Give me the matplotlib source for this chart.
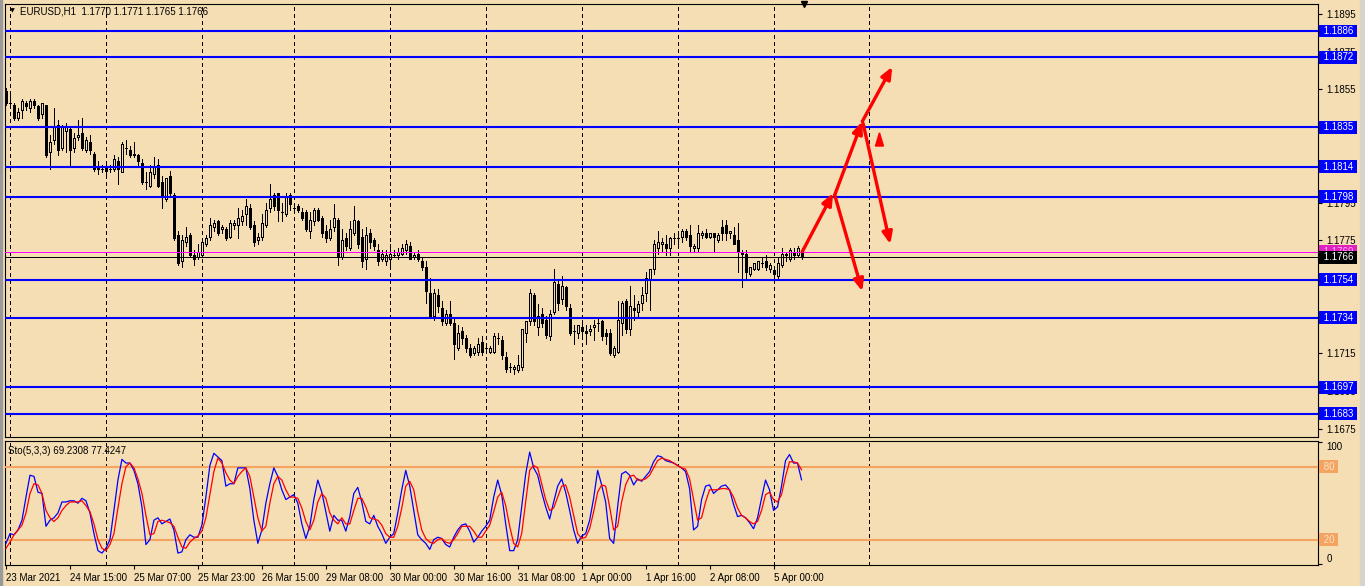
import matplotlib
matplotlib.use("Agg")
import matplotlib.pyplot as plt
import matplotlib.transforms as mtransforms
from matplotlib.patches import Polygon, Rectangle
import numpy as np

# EURUSD H1 candles (one per hour, left to right)
opens = [1.1854, 1.1848, 1.1847, 1.1840, 1.1844, 1.1848, 1.1845, 1.1849, 1.1846, 1.1842,
         1.1847, 1.1822, 1.1828, 1.1836, 1.1824, 1.1833, 1.1834, 1.1824, 1.1830, 1.1832,
         1.1823, 1.1827, 1.1821, 1.1814, 1.1813, 1.1814, 1.1813, 1.1813, 1.1817, 1.1811,
         1.1824, 1.1823, 1.1821, 1.1820, 1.1816, 1.1806, 1.1804, 1.1810, 1.1815, 1.1806,
         1.1797, 1.1809, 1.1799, 1.1778, 1.1764, 1.1774, 1.1778, 1.1767, 1.1766, 1.1767,
         1.1773, 1.1777, 1.1782, 1.1785, 1.1781, 1.1781, 1.1777, 1.1783, 1.1783, 1.1785,
         1.1789, 1.1792, 1.1783, 1.1775, 1.1777, 1.1783, 1.1792, 1.1799, 1.1800, 1.1790,
         1.1789, 1.1799, 1.1792, 1.1793, 1.1790, 1.1790, 1.1780, 1.1785, 1.1791, 1.1787,
         1.1780, 1.1776, 1.1782, 1.1786, 1.1766, 1.1776, 1.1771, 1.1779, 1.1785, 1.1777,
         1.1765, 1.1779, 1.1775, 1.1770, 1.1765, 1.1764, 1.1765, 1.1767, 1.1767, 1.1768,
         1.1770, 1.1772, 1.1766, 1.1768, 1.1764, 1.1761, 1.1747, 1.1735, 1.1746, 1.1739,
         1.1731, 1.1736, 1.1731, 1.1718, 1.1727, 1.1723, 1.1718, 1.1715, 1.1716, 1.1721,
         1.1718, 1.1716, 1.1716, 1.1723, 1.1722, 1.1713, 1.1708, 1.1707, 1.1706, 1.1708,
         1.1726, 1.1732, 1.1746, 1.1729, 1.1736, 1.1733, 1.1724, 1.1737, 1.1752, 1.1744,
         1.1750, 1.1739, 1.1727, 1.1726, 1.1729, 1.1727, 1.1727, 1.1729, 1.1731, 1.1732,
         1.1726, 1.1726, 1.1714, 1.1716, 1.1731, 1.1743, 1.1728, 1.1739, 1.1737, 1.1742,
         1.1747, 1.1754, 1.1760, 1.1771, 1.1773, 1.1773, 1.1771, 1.1776, 1.1776, 1.1777,
         1.1780, 1.1778, 1.1771, 1.1771, 1.1778, 1.1779, 1.1777, 1.1779, 1.1775, 1.1782,
         1.1783, 1.1779, 1.1778, 1.1775, 1.1769, 1.1768, 1.1757, 1.1760, 1.1760, 1.1763,
         1.1764, 1.1760, 1.1759, 1.1756, 1.1762, 1.1767, 1.1765, 1.1769, 1.1767, 1.1770]
highs = [1.1856, 1.1853, 1.1848, 1.1845, 1.1850, 1.1849, 1.1850, 1.1850, 1.1847, 1.1848,
         1.1847, 1.1831, 1.1845, 1.1839, 1.1836, 1.1837, 1.1835, 1.1832, 1.1839, 1.1840,
         1.1830, 1.1831, 1.1822, 1.1817, 1.1815, 1.1816, 1.1815, 1.1820, 1.1819, 1.1827,
         1.1828, 1.1825, 1.1827, 1.1821, 1.1818, 1.1811, 1.1815, 1.1819, 1.1818, 1.1809,
         1.1808, 1.1812, 1.1800, 1.1780, 1.1778, 1.1782, 1.1779, 1.1770, 1.1773, 1.1775,
         1.1778, 1.1787, 1.1786, 1.1786, 1.1783, 1.1782, 1.1786, 1.1786, 1.1792, 1.1791,
         1.1797, 1.1794, 1.1785, 1.1779, 1.1789, 1.1795, 1.1805, 1.1800, 1.1800, 1.1795,
         1.1800, 1.1800, 1.1794, 1.1794, 1.1792, 1.1791, 1.1790, 1.1792, 1.1792, 1.1788,
         1.1783, 1.1786, 1.1794, 1.1787, 1.1781, 1.1779, 1.1785, 1.1793, 1.1786, 1.1781,
         1.1782, 1.1781, 1.1776, 1.1773, 1.1770, 1.1770, 1.1773, 1.1770, 1.1771, 1.1773,
         1.1775, 1.1774, 1.1769, 1.1770, 1.1766, 1.1764, 1.1755, 1.1749, 1.1749, 1.1743,
         1.1738, 1.1743, 1.1734, 1.1730, 1.1729, 1.1725, 1.1720, 1.1719, 1.1723, 1.1724,
         1.1719, 1.1719, 1.1726, 1.1726, 1.1724, 1.1716, 1.1710, 1.1709, 1.1714, 1.1728,
         1.1732, 1.1749, 1.1747, 1.1741, 1.1739, 1.1735, 1.1738, 1.1760, 1.1754, 1.1756,
         1.1751, 1.1741, 1.1730, 1.1730, 1.1733, 1.1730, 1.1730, 1.1733, 1.1734, 1.1733,
         1.1728, 1.1728, 1.1719, 1.1743, 1.1743, 1.1744, 1.1751, 1.1746, 1.1743, 1.1750,
         1.1758, 1.1760, 1.1775, 1.1780, 1.1776, 1.1778, 1.1777, 1.1779, 1.1779, 1.1781,
         1.1781, 1.1783, 1.1773, 1.1783, 1.1780, 1.1781, 1.1779, 1.1779, 1.1779, 1.1786,
         1.1786, 1.1780, 1.1782, 1.1784, 1.1770, 1.1770, 1.1761, 1.1762, 1.1764, 1.1766,
         1.1767, 1.1763, 1.1760, 1.1766, 1.1771, 1.1769, 1.1771, 1.1771, 1.1772, 1.1771]
lows = [1.1847, 1.1845, 1.1839, 1.1839, 1.1840, 1.1844, 1.1843, 1.1845, 1.1839, 1.1840,
        1.1819, 1.1813, 1.1826, 1.1820, 1.1823, 1.1822, 1.1814, 1.1822, 1.1828, 1.1823,
        1.1822, 1.1821, 1.1812, 1.1810, 1.1811, 1.1808, 1.1811, 1.1812, 1.1805, 1.1811,
        1.1821, 1.1819, 1.1819, 1.1815, 1.1805, 1.1802, 1.1803, 1.1808, 1.1803, 1.1792,
        1.1796, 1.1799, 1.1775, 1.1762, 1.1761, 1.1772, 1.1766, 1.1762, 1.1765, 1.1766,
        1.1772, 1.1775, 1.1780, 1.1778, 1.1779, 1.1775, 1.1776, 1.1781, 1.1776, 1.1783,
        1.1783, 1.1781, 1.1772, 1.1773, 1.1775, 1.1782, 1.1790, 1.1791, 1.1785, 1.1785,
        1.1788, 1.1791, 1.1790, 1.1790, 1.1786, 1.1780, 1.1776, 1.1783, 1.1785, 1.1777,
        1.1774, 1.1775, 1.1780, 1.1762, 1.1765, 1.1770, 1.1770, 1.1778, 1.1771, 1.1761,
        1.1760, 1.1771, 1.1770, 1.1762, 1.1764, 1.1762, 1.1762, 1.1766, 1.1765, 1.1767,
        1.1768, 1.1765, 1.1765, 1.1764, 1.1759, 1.1742, 1.1734, 1.1733, 1.1737, 1.1730,
        1.1730, 1.1730, 1.1712, 1.1717, 1.1720, 1.1716, 1.1713, 1.1714, 1.1714, 1.1714,
        1.1716, 1.1715, 1.1715, 1.1720, 1.1712, 1.1705, 1.1705, 1.1704, 1.1705, 1.1706,
        1.1721, 1.1730, 1.1730, 1.1725, 1.1729, 1.1723, 1.1722, 1.1736, 1.1738, 1.1741,
        1.1738, 1.1725, 1.1720, 1.1723, 1.1725, 1.1720, 1.1725, 1.1722, 1.1727, 1.1722,
        1.1720, 1.1714, 1.1713, 1.1715, 1.1725, 1.1726, 1.1725, 1.1733, 1.1734, 1.1738,
        1.1743, 1.1738, 1.1757, 1.1768, 1.1769, 1.1767, 1.1767, 1.1773, 1.1773, 1.1774,
        1.1775, 1.1769, 1.1769, 1.1769, 1.1776, 1.1776, 1.1776, 1.1769, 1.1774, 1.1775,
        1.1775, 1.1776, 1.1773, 1.1758, 1.1750, 1.1755, 1.1756, 1.1759, 1.1759, 1.1761,
        1.1759, 1.1758, 1.1755, 1.1754, 1.1761, 1.1764, 1.1764, 1.1765, 1.1766, 1.1765]
closes = [1.1848, 1.1848, 1.1840, 1.1843, 1.1849, 1.1846, 1.1849, 1.1847, 1.1840, 1.1848,
          1.1820, 1.1827, 1.1835, 1.1823, 1.1835, 1.1835, 1.1823, 1.1829, 1.1831, 1.1824,
          1.1828, 1.1823, 1.1813, 1.1813, 1.1813, 1.1812, 1.1813, 1.1818, 1.1813, 1.1826,
          1.1824, 1.1820, 1.1820, 1.1817, 1.1806, 1.1806, 1.1811, 1.1814, 1.1804, 1.1798,
          1.1808, 1.1800, 1.1776, 1.1763, 1.1775, 1.1777, 1.1767, 1.1765, 1.1769, 1.1774,
          1.1776, 1.1783, 1.1784, 1.1779, 1.1782, 1.1776, 1.1784, 1.1784, 1.1787, 1.1788,
          1.1793, 1.1782, 1.1774, 1.1777, 1.1784, 1.1791, 1.1797, 1.1793, 1.1791, 1.1790,
          1.1798, 1.1794, 1.1792, 1.1791, 1.1787, 1.1781, 1.1786, 1.1791, 1.1786, 1.1779,
          1.1776, 1.1781, 1.1787, 1.1766, 1.1775, 1.1772, 1.1781, 1.1786, 1.1773, 1.1764,
          1.1778, 1.1774, 1.1772, 1.1764, 1.1768, 1.1767, 1.1768, 1.1767, 1.1769, 1.1771,
          1.1773, 1.1765, 1.1767, 1.1765, 1.1761, 1.1748, 1.1735, 1.1747, 1.1740, 1.1732,
          1.1736, 1.1731, 1.1720, 1.1726, 1.1723, 1.1718, 1.1714, 1.1718, 1.1720, 1.1716,
          1.1718, 1.1718, 1.1724, 1.1723, 1.1714, 1.1707, 1.1708, 1.1708, 1.1709, 1.1728,
          1.1732, 1.1747, 1.1732, 1.1735, 1.1731, 1.1725, 1.1736, 1.1753, 1.1742, 1.1751,
          1.1740, 1.1726, 1.1727, 1.1730, 1.1727, 1.1726, 1.1728, 1.1730, 1.1731, 1.1724,
          1.1724, 1.1715, 1.1718, 1.1733, 1.1742, 1.1728, 1.1740, 1.1738, 1.1741, 1.1746,
          1.1755, 1.1760, 1.1773, 1.1774, 1.1774, 1.1771, 1.1776, 1.1776, 1.1776, 1.1780,
          1.1777, 1.1772, 1.1772, 1.1779, 1.1779, 1.1777, 1.1779, 1.1777, 1.1778, 1.1779,
          1.1779, 1.1780, 1.1773, 1.1769, 1.1768, 1.1758, 1.1761, 1.1763, 1.1764, 1.1763,
          1.1761, 1.1762, 1.1757, 1.1763, 1.1768, 1.1768, 1.1770, 1.1767, 1.1771, 1.1766]

# Stochastic(5,3,3): main (%K, blue) and signal (%D, red)
sto_main = [17, 25, 24, 28, 36, 55, 73, 72, 59, 58,
            31, 36, 38, 42, 51, 51, 52, 52, 50, 54,
            52, 42, 25, 11, 9, 13, 20, 44, 69, 86,
            83, 83, 77, 66, 47, 16, 20, 36, 38, 33,
            35, 37, 28, 9, 10, 20, 24, 22, 22, 32,
            55, 81, 91, 88, 85, 64, 66, 66, 79, 79,
            79, 62, 36, 17, 28, 50, 66, 79, 72, 61,
            53, 55, 57, 50, 33, 21, 31, 53, 69, 59,
            43, 27, 40, 36, 36, 27, 39, 58, 63, 51,
            35, 33, 40, 31, 25, 17, 22, 25, 42, 61,
            77, 64, 44, 24, 20, 17, 12, 20, 22, 21,
            16, 14, 22, 28, 32, 33, 27, 18, 22, 27,
            31, 36, 55, 69, 57, 33, 11, 11, 20, 47,
            74, 92, 79, 73, 59, 47, 37, 51, 64, 70,
            59, 44, 28, 17, 23, 25, 36, 54, 77, 65,
            51, 21, 17, 47, 74, 76, 73, 65, 70, 68,
            72, 76, 84, 89, 88, 85, 84, 83, 81, 79,
            76, 62, 28, 31, 53, 64, 65, 58, 61, 64,
            65, 61, 49, 39, 40, 38, 34, 29, 38, 54,
            69, 61, 44, 47, 64, 85, 90, 83, 83, 69.2308]
sto_signal = [13, 18, 24, 28, 32, 42, 58, 66, 65, 58,
              44, 38, 35, 38, 44, 48, 51, 51, 51, 52,
              48, 43, 33, 20, 13, 11, 16, 25, 46, 66,
              80, 83, 79, 70, 58, 40, 24, 25, 35, 36,
              35, 34, 31, 22, 14, 13, 18, 21, 23, 27,
              38, 57, 76, 87, 83, 75, 69, 66, 72, 76,
              79, 72, 55, 38, 27, 31, 50, 66, 72, 69,
              61, 55, 55, 54, 46, 35, 28, 36, 51, 58,
              54, 42, 36, 33, 38, 33, 33, 44, 54, 54,
              47, 38, 37, 36, 32, 25, 22, 22, 31, 46,
              64, 68, 61, 43, 28, 21, 18, 17, 20, 21,
              18, 17, 20, 25, 31, 31, 31, 27, 22, 22,
              27, 32, 43, 55, 59, 48, 31, 17, 14, 25,
              51, 77, 81, 79, 66, 53, 44, 46, 55, 64,
              65, 55, 40, 25, 21, 22, 29, 43, 59, 65,
              64, 47, 28, 31, 51, 65, 72, 73, 69, 69,
              70, 73, 79, 85, 87, 86, 85, 83, 81, 79,
              78, 70, 53, 36, 38, 51, 61, 61, 61, 62,
              62, 61, 55, 46, 40, 38, 35, 33, 35, 44,
              57, 59, 53, 51, 57, 72, 84, 84, 83, 77.4247]

# horizontal support / resistance levels
levels = [1.1886, 1.1872, 1.1835, 1.1814, 1.1798, 1.1754, 1.1734, 1.1697, 1.1683]
bid, ask = 1.1766, 1.1769
price_ticks = [1.1895, 1.1875, 1.1855, 1.1835, 1.1815, 1.1795, 1.1775,
               1.1755, 1.1735, 1.1715, 1.1695, 1.1675]

# time axis
date_ticks = [0, 16, 32, 48, 64, 80, 96, 112, 128, 144, 160, 176, 192]
date_labels = ["23 Mar 2021", "24 Mar 15:00", "25 Mar 07:00", "25 Mar 23:00",
               "26 Mar 15:00", "29 Mar 08:00", "30 Mar 00:00", "30 Mar 16:00",
               "31 Mar 08:00", "1 Apr 00:00", "1 Apr 16:00", "2 Apr 08:00",
               "5 Apr 00:00"]
day_separators = [1, 25, 49, 72, 96, 120, 144, 168, 192, 216]

# forecast arrows drawn on the chart: (from bar, from price, to bar, to price)
arrows = [(199.2, 1.1769, 206.9, 1.1800),
          (207.3, 1.1799, 214.2, 1.1748),
          (207.3, 1.1799, 214.2, 1.1838),
          (214.2, 1.1838, 221.7, 1.1867),
          (214.4, 1.1837, 221.2, 1.1773)]
up_mark = [(217.5, 1.1825), (219.5, 1.1825), (218.5, 1.1832)]

BG = "#F5DEB3"
W, H = 1365, 586
FS = 7
plt.rcParams["font.family"] = ["Liberation Sans", "DejaVu Sans"]


def rect(l, t, r, b):
    return [l / W, 1 - b / H, (r - l) / W, (b - t) / H]


fig = plt.figure(figsize=(W / 100, H / 100), dpi=100, facecolor=BG)
ax = fig.add_axes(rect(5, 4, 1318, 437), facecolor=BG)
ax2 = fig.add_axes(rect(5, 441, 1318, 565), facecolor=BG, sharex=ax)

x = np.arange(len(opens))
o = np.array(opens)
c = np.array(closes)
bull = c >= o

# day separators
for a in (ax, ax2):
    for s in day_separators:
        a.axvline(s, color="black", lw=0.72, ls=(0, (3, 3)), zorder=1,
                  antialiased=False)

# candles
ax.vlines(x, lows, highs, color="black", lw=0.72, zorder=3, antialiased=False)
ax.bar(x[bull], (c - o)[bull], bottom=o[bull], width=0.5, color=BG,
       edgecolor="black", linewidth=0.72, zorder=4, antialiased=False)
ax.bar(x[~bull], (c - o)[~bull], bottom=o[~bull], width=0.5, color="black",
       edgecolor="black", linewidth=0.72, zorder=4, antialiased=False)

# levels
ytr = ax.get_yaxis_transform()
box = dict(boxstyle="square,pad=0.15", ec="none")
for lv in levels:
    ax.axhline(lv, color="#0000FF", lw=1.5, zorder=5)
    ax.text(1.002, lv, f" {lv:.4f} ", transform=ytr, ha="left", va="center",
            fontsize=FS, color="white", zorder=10, clip_on=False,
            bbox=dict(box, fc="#0000FF"))
ax.axhline(ask, color="#FF00FF", lw=0.72, zorder=5, antialiased=False)
ax.axhline(bid, color="black", lw=0.72, zorder=5, antialiased=False)
ax.text(1.002, ask, f" {ask:.4f} ", transform=ytr, ha="left", va="center",
        fontsize=FS, color="#FFB0F0", zorder=9, clip_on=False,
        bbox=dict(box, fc="#E020C0"))
ax.text(1.002, bid, f" {bid:.4f} ", transform=ytr, ha="left", va="center",
        fontsize=FS, color="white", zorder=11, clip_on=False,
        bbox=dict(box, fc="black"))

# forecast arrows
for x0, y0, x1, y1 in arrows:
    ax.annotate("", xy=(x1, y1), xytext=(x0, y0), zorder=12,
                arrowprops=dict(arrowstyle="-|>,head_length=0.7,head_width=0.3",
                                color="#FF0000", lw=2.4, shrinkA=0, shrinkB=0))
ax.add_patch(Polygon(up_mark, closed=True, color="#FF0000", zorder=12))

# chart shift marker
ax.plot([199.5], [1.0], marker="v", color="black", ms=5,
        transform=mtransforms.blended_transform_factory(ax.transData, ax.transAxes),
        clip_on=False, zorder=12)

ax.set_xlim(-0.25, 328.2)
ax.set_ylim(1.16707, 1.19003)
ax.yaxis.tick_right()
ax.set_yticks(price_ticks)
ax.set_yticklabels([f"{t:.4f}" for t in price_ticks])
ax.tick_params(axis="y", direction="out", length=3, width=0.8, pad=3,
               labelsize=FS, colors="black")
ax.tick_params(axis="x", bottom=False, labelbottom=False)

# stochastic panel
ax2.plot(x, sto_main, color="#0000FF", lw=0.9, zorder=4)
ax2.plot(x, sto_signal, color="#FF0000", lw=0.9, zorder=4)
ytr2 = ax2.get_yaxis_transform()
for lv in (80, 20):
    ax2.axhline(lv, color="#F4A460", lw=1.5, zorder=3)
    ax2.text(1.002, lv, f" {lv} ", transform=ytr2, ha="left", va="center",
             fontsize=FS, color="#FBE3C8", zorder=10, clip_on=False,
             bbox=dict(box, fc="#F4A460"))
ax2.set_ylim(-0.8, 101.1)
ax2.yaxis.tick_right()
ax2.set_yticks([0, 100])
ax2.set_yticklabels(["0", "100"])
for lbl, va in zip(ax2.get_yticklabels(), ["bottom", "top"]):
    lbl.set_va(va)
ax2.tick_params(axis="y", direction="out", length=3, width=0.8, pad=3, labelsize=FS)
ax2.set_xticks(date_ticks)
ax2.set_xticklabels(date_labels, ha="left")
ax2.tick_params(axis="x", direction="out", length=3, width=0.8, pad=3, labelsize=FS)

for a in (ax, ax2):
    for sp in a.spines.values():
        sp.set_color("black")
        sp.set_linewidth(0.8)

# window texts
fig.text(10 / W, 1 - 11 / H, "\u25BC", fontsize=4.5, va="center", ha="left",
         family="DejaVu Sans")
fig.text(20 / W, 1 - 11 / H, "EURUSD,H1  1.1770 1.1771 1.1765 1.1766",
         fontsize=FS, va="center", ha="left")
fig.text(8 / W, 1 - 451 / H, "Sto(5,3,3) 69.2308 77.4247",
         fontsize=FS, va="center", ha="left")

# window frame edges
fig.patches.append(Rectangle((0, 0), 2 / W, 1, transform=fig.transFigure,
                             color="#9A9A9A", zorder=0))
fig.patches.append(Rectangle((1360 / W, 0), 5 / W, 1, transform=fig.transFigure,
                             color="#D8D4CC", zorder=0))

fig.savefig("out.png", dpi=100, facecolor=BG)
